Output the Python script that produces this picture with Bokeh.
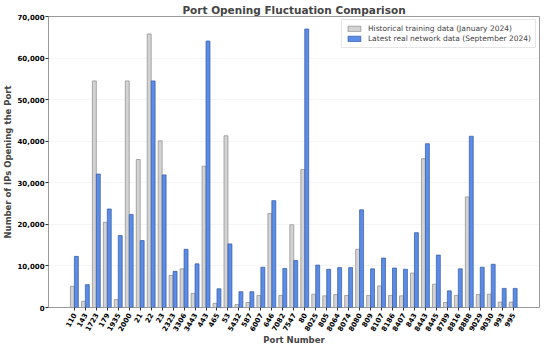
import math
from bokeh.plotting import figure
from bokeh.models import ColumnDataSource, FixedTicker, Range1d, NumeralTickFormatter, Legend, LegendItem
from bokeh.embed import file_html
from bokeh.resources import INLINE

ports = ["110", "143", "1723", "179", "1935", "2000", "21", "22", "23", "2323",
         "3306", "3443", "443", "465", "53", "5432", "587", "6007", "646", "7082",
         "7547", "80", "8025", "805", "8064", "8074", "8080", "809", "8107", "8186",
         "8407", "843", "8443", "8445", "8789", "8816", "8888", "9029", "9030", "993", "995"]
historical = [5100, 1500, 54500, 20500, 1900, 54500, 35600, 65800, 40100, 7700,
              9300, 3400, 34000, 1000, 41300, 700, 1200, 2900, 22600, 2900,
              19900, 33200, 3200, 2800, 3100, 2900, 14000, 2900, 5200, 2900,
              2800, 8300, 35800, 5600, 1200, 2900, 26600, 3100, 3200, 1300, 1300]
latest = [12300, 5500, 32100, 23700, 17300, 22400, 16100, 54500, 31900, 8700,
          14000, 10500, 64100, 4500, 15300, 3800, 3800, 9700, 25700, 9400,
          11300, 67000, 10200, 9200, 9600, 9600, 23500, 9300, 11900, 9500,
          9200, 18000, 39400, 12600, 4000, 9300, 41200, 9700, 10400, 4600, 4600]
x_title = "Port Number"
y_title = "Number of IPs Opening the Port"

idx = list(range(len(ports)))
bw = 0.36
src = ColumnDataSource(dict(
    xh=[i - bw / 2 for i in idx], xl=[i + bw / 2 for i in idx],
    hist=historical, lat=latest))

p = figure(width=542, height=348, output_backend="svg", toolbar_location=None,
           x_range=Range1d(-2.36, 42.4), y_range=Range1d(0, 70000),
           min_border_left=0, min_border_right=3, min_border_top=0, min_border_bottom=0)

p.title.text = "Port Opening Fluctuation Comparison"
p.title.text_font = "DejaVu Sans"
p.title.text_font_size = "10.5px"
p.title.text_font_style = "bold"
p.title.align = "center"
p.title.standoff = 2
p.title.offset = 0

r1 = p.vbar(x="xh", top="hist", width=bw, source=src, fill_color="#d3d3d3",
            line_color="#8a8a8a", line_width=0.7)
r2 = p.vbar(x="xl", top="lat", width=bw, source=src, fill_color="#5a8ce8",
            line_color="#35589e", line_width=0.7)

p.xaxis.ticker = FixedTicker(ticks=idx)
p.xaxis.major_label_overrides = {i: s for i, s in zip(idx, ports)}
p.xaxis.major_label_orientation = math.pi / 3
p.yaxis.ticker = FixedTicker(ticks=list(range(0, 70001, 10000)))
p.yaxis.formatter = NumeralTickFormatter(format="0,0")

for ax in (p.xaxis, p.yaxis):
    ax.major_label_text_font = "DejaVu Sans"
    ax.major_label_text_font_style = "bold"
    ax.major_label_text_font_size = "7px"
    ax.major_label_text_color = "#000000"
    ax.axis_label_text_font = "DejaVu Sans"
    ax.axis_label_text_font_style = "bold"
    ax.axis_label_text_font_size = "8.5px"
    ax.axis_line_color = None
    ax.major_tick_line_color = "#333333"
    ax.major_tick_out = 3
    ax.major_tick_in = 0
    ax.minor_tick_line_color = None

p.xaxis.major_label_standoff = 3
p.yaxis.major_label_standoff = 1
p.xaxis.axis_label = x_title
p.yaxis.axis_label = y_title
p.xaxis.axis_label_standoff = -1
p.yaxis.axis_label_standoff = 1

p.xgrid.grid_line_color = None
p.ygrid.grid_line_color = "#e6e6e6"
p.ygrid.grid_line_alpha = 0.7
p.ygrid.grid_line_width = 0.6

p.outline_line_color = "#9a9a9a"
p.outline_line_width = 1

legend = Legend(items=[
    LegendItem(label="Historical training data (January 2024)", renderers=[r1]),
    LegendItem(label="Latest real network data (September 2024)", renderers=[r2]),
], location="top_right")
legend.label_text_font = "DejaVu Sans"
legend.label_text_font_size = "7.5px"
legend.label_height = 8
legend.glyph_height = 7
legend.glyph_width = 16
legend.spacing = 1
legend.padding = 4
legend.margin = 3
legend.label_standoff = 6
legend.border_line_color = "#cccccc"
legend.border_line_width = 1
legend.background_fill_alpha = 0.85
p.add_layout(legend)

open("out.html", "w").write(file_html(p, INLINE))
